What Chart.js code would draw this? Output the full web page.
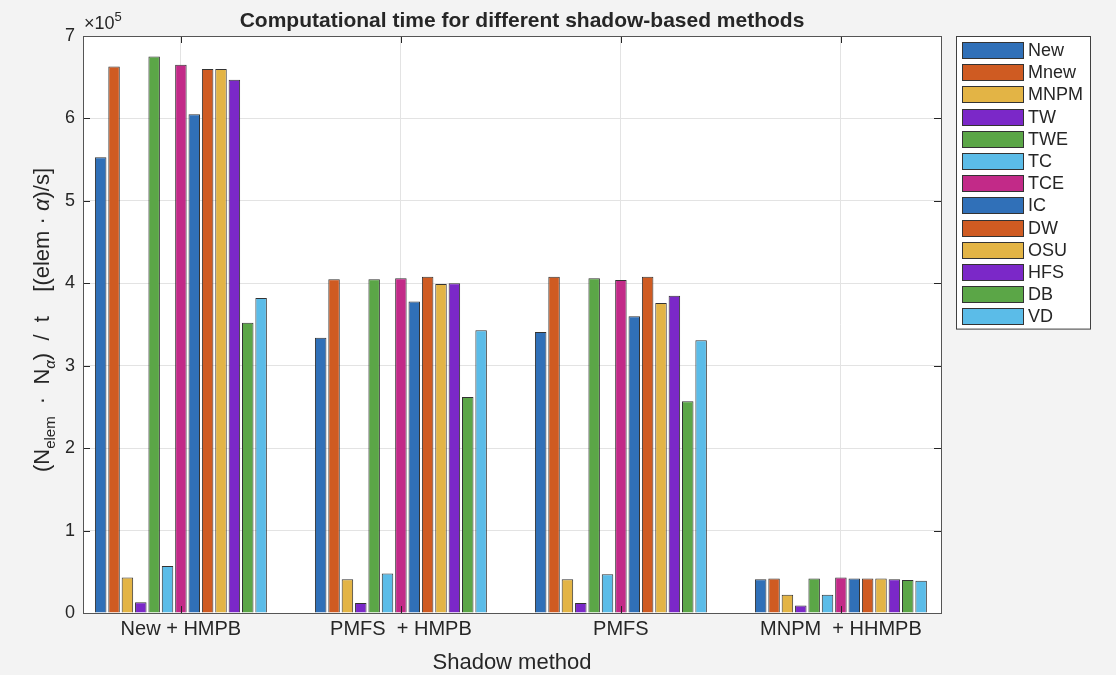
<!DOCTYPE html>
<html lang="en">
<head>
<meta charset="UTF-8">
<title>Computational time for different shadow-based methods</title>
<style>
  body {
    margin: 0;
    padding: 0;
    background-color: #f3f3f3;
  }
  canvas {
    display: block;
  }
</style>
</head>
<body>
<canvas id="grafico" width="1116" height="675"></canvas>
<script src="https://cdn.jsdelivr.net/npm/chart.js"></script>
<script>
  // groups on the x axis
  const categories = ['New + HMPB', 'PMFS  + HMPB', 'PMFS', 'MNPM  + HHMPB'];
  // one bar per method inside every group
  const methods = ['New', 'Mnew', 'MNPM', 'TW', 'TWE', 'TC', 'TCE', 'IC', 'DW', 'OSU', 'HFS', 'DB', 'VD'];

  // (N_elem * N_alpha) / t, values in units of 1e5, one array per group, same order as methods
  const newHmpb   = [5.53, 6.63, 0.43, 0.13, 6.75, 0.57, 6.65, 6.05, 6.60, 6.60, 6.47, 3.52, 3.82];
  const pmfsHmpb  = [3.34, 4.05, 0.41, 0.12, 4.05, 0.48, 4.06, 3.78, 4.08, 3.99, 4.00, 2.62, 3.43];
  const pmfs      = [3.41, 4.08, 0.41, 0.12, 4.06, 0.47, 4.04, 3.60, 4.08, 3.76, 3.85, 2.57, 3.31];
  const mnpmHhmpb = [0.41, 0.42, 0.22, 0.09, 0.42, 0.22, 0.43, 0.42, 0.42, 0.42, 0.41, 0.40, 0.39];
  const scaleExp = 5;

  const yTicks = [0, 1, 2, 3, 4, 5, 6, 7];

  const cores = [
    '#3070b8', '#cf5b22', '#e3b445', '#7b28c8', '#5ba647', '#5bbce8', '#c22a88',
    '#3070b8', '#cf5b22', '#e3b445', '#7b28c8', '#5ba647', '#5bbce8'
  ];

  const grupos = [newHmpb, pmfsHmpb, pmfs, mnpmHhmpb];
  const fator = Math.pow(10, scaleExp);
  const posicoes = categories.map((c, i) => i + 1);

  const datasets = methods.map((nome, j) => ({
    label: nome,
    data: grupos.map(g => g[j] * fator),
    backgroundColor: cores[j],
    borderColor: '#333333',
    borderWidth: 1,
    categoryPercentage: 0.79,
    barPercentage: 0.86
  }));

  const fonte = '"Liberation Sans", Arial, Helvetica, sans-serif';
  const corTexto = '#262626';

  function textoRico(ctx, partes, x, y, tam) {
    // mede e desenha texto com subscritos, centrado em x
    let total = 0;
    partes.forEach(p => {
      const t = p.sub ? Math.round(tam * 0.7) : tam;
      ctx.font = (p.italic ? 'italic ' : '') + t + 'px ' + fonte;
      p.w = ctx.measureText(p.t).width;
      p.f = ctx.font;
      total += p.w;
    });
    let cx = x - total / 2;
    partes.forEach(p => {
      ctx.font = p.f;
      ctx.fillText(p.t, cx, y + (p.sub ? tam * 0.28 : 0));
      cx += p.w;
    });
  }

  const decoracao = {
    id: 'decoracao',
    beforeDraw(chart) {
      const { ctx, chartArea: a } = chart;
      ctx.save();
      ctx.fillStyle = '#ffffff';
      ctx.fillRect(a.left, a.top, a.right - a.left, a.bottom - a.top);
      ctx.restore();
    },
    afterDraw(chart) {
      const { ctx, chartArea: a } = chart;
      const x = chart.scales.x, y = chart.scales.y;
      ctx.save();

      // tick marks pointing inward
      ctx.strokeStyle = corTexto;
      ctx.lineWidth = 1;
      ctx.beginPath();
      yTicks.forEach(v => {
        const py = Math.round(y.getPixelForValue(v * fator)) + 0.5;
        ctx.moveTo(a.left, py); ctx.lineTo(a.left + 7, py);
        ctx.moveTo(a.right, py); ctx.lineTo(a.right - 7, py);
      });
      posicoes.forEach(v => {
        const px = Math.round(x.getPixelForValue(v)) + 0.5;
        ctx.moveTo(px, a.bottom); ctx.lineTo(px, a.bottom - 7);
        ctx.moveTo(px, a.top); ctx.lineTo(px, a.top + 7);
      });
      ctx.stroke();

      // axes box
      ctx.strokeStyle = '#555555';
      ctx.strokeRect(Math.round(a.left) + 0.5, Math.round(a.top) + 0.5,
        Math.round(a.right - a.left), Math.round(a.bottom - a.top));

      // title
      ctx.fillStyle = corTexto;
      ctx.textBaseline = 'alphabetic';
      ctx.textAlign = 'center';
      ctx.font = 'bold 21px ' + fonte;
      ctx.fillText('Computational time for different shadow-based methods', 522, 27);

      // exponent
      ctx.textAlign = 'left';
      ctx.font = '18px ' + fonte;
      ctx.fillText('×10', a.left + 1, 29);
      const w10 = ctx.measureText('×10').width;
      ctx.font = '13px ' + fonte;
      ctx.fillText(String(scaleExp), a.left + 1 + w10, 21);

      // x axis title
      ctx.textAlign = 'center';
      ctx.font = '22px ' + fonte;
      ctx.fillText('Shadow method', (a.left + a.right) / 2, 669);

      // y axis title
      ctx.save();
      ctx.translate(49, 320);
      ctx.rotate(-Math.PI / 2);
      ctx.textAlign = 'left';
      textoRico(ctx, [
        { t: '(N' },
        { t: 'elem', sub: true },
        { t: '  ·  N' },
        { t: 'α', sub: true, italic: true },
        { t: ')  /  t    [(elem · ' },
        { t: 'α', italic: true },
        { t: ')/s]' }
      ], 0, 0, 22);
      ctx.restore();

      // legend
      const lx = 956, ly = 36, lw = 134, passo = 22.2;
      const lh = methods.length * passo + 4;
      ctx.fillStyle = '#ffffff';
      ctx.fillRect(lx, ly, lw, lh);
      ctx.strokeStyle = '#404040';
      ctx.strokeRect(lx + 0.5, ly + 0.5, lw, lh);
      ctx.font = '18px ' + fonte;
      ctx.textAlign = 'left';
      ctx.textBaseline = 'middle';
      chart.data.datasets.forEach((ds, i) => {
        const cy = ly + 14 + i * passo;
        ctx.fillStyle = ds.backgroundColor;
        ctx.fillRect(lx + 6, Math.round(cy - 8), 61, 16);
        ctx.strokeStyle = '#333333';
        ctx.strokeRect(lx + 6.5, Math.round(cy - 8) + 0.5, 61, 16);
        ctx.fillStyle = corTexto;
        ctx.fillText(ds.label, lx + 72, cy + 1);
      });

      ctx.restore();
    }
  };

  new Chart(document.getElementById('grafico'), {
    type: 'bar',
    data: {
      labels: posicoes,
      datasets: datasets
    },
    plugins: [decoracao],
    options: {
      responsive: false,
      animation: false,
      layout: {
        padding: { top: 36, right: 175, bottom: 0, left: 0 }
      },
      plugins: {
        legend: { display: false },
        title: { display: false },
        tooltip: { enabled: false }
      },
      scales: {
        x: {
          type: 'linear',
          offset: false,
          min: 0.555,
          max: 4.455,
          afterBuildTicks: s => { s.ticks = posicoes.map(v => ({ value: v })); },
          afterFit: s => { s.height = 62; },
          ticks: {
            callback: (v, i) => categories[i],
            font: { family: fonte, size: 20 },
            color: corTexto,
            padding: 4,
            maxRotation: 0,
            autoSkip: false
          },
          grid: { color: '#e3e3e3', drawTicks: false, offset: false },
          border: { display: false }
        },
        y: {
          min: 0,
          max: yTicks[yTicks.length - 1] * fator,
          afterBuildTicks: s => { s.ticks = yTicks.map(v => ({ value: v * fator })); },
          afterFit: s => { s.width = 83; },
          ticks: {
            callback: v => v / fator,
            font: { family: fonte, size: 18 },
            color: corTexto,
            padding: 8
          },
          grid: { color: '#e3e3e3', drawTicks: false },
          border: { display: false }
        }
      }
    }
  });
</script>
</body>
</html>
